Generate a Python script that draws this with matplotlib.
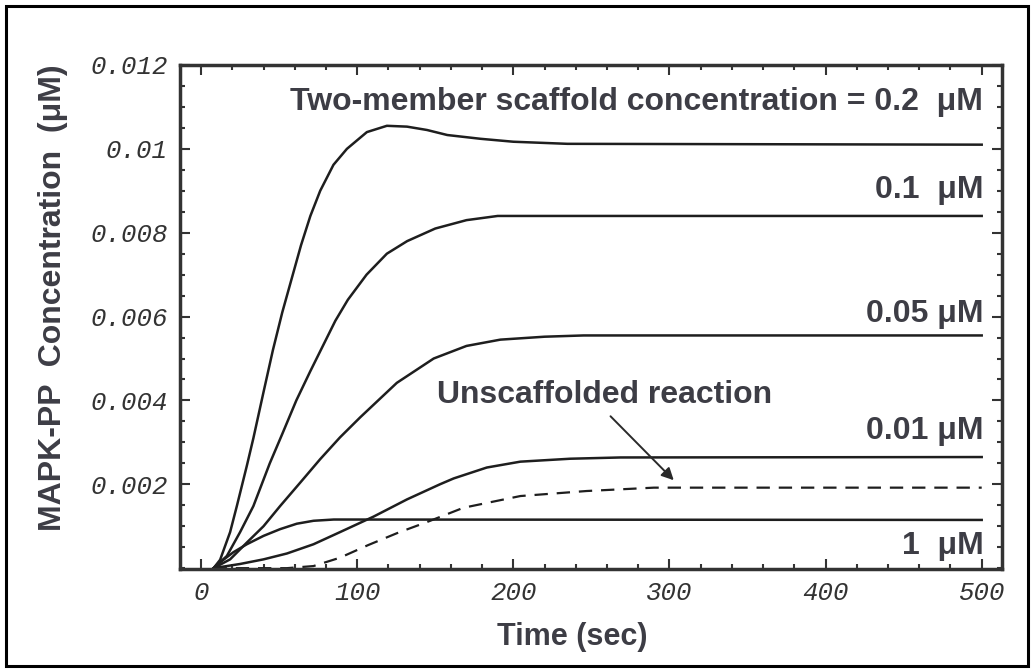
import numpy as np
import matplotlib
matplotlib.use("Agg")
import matplotlib.pyplot as plt
from matplotlib.patches import Rectangle
from matplotlib.ticker import MultipleLocator, FixedLocator, FixedFormatter

# values (time in sec, concentration in uM)
t_02 = [8, 12.2, 18.6, 22.9, 29.3, 33.5, 40, 46, 52, 58, 64, 70, 76.3, 84.8, 93.4, 106.2, 119,
        131.9, 144.7, 157.7, 179, 200, 234.6, 500]
y_02 = [0, 0.0002, 0.00086, 0.00148, 0.00244, 0.0031, 0.0042, 0.0052, 0.0061, 0.0069, 0.0077,
        0.0084, 0.009, 0.00962, 0.01, 0.0104, 0.01055, 0.01053, 0.01045, 0.01033, 0.01024,
        0.01017, 0.01012, 0.0101]

t_01 = [8, 16.5, 25, 33.5, 44, 52, 61, 70, 78, 86, 94, 106, 119, 132, 150, 170, 190, 500]
y_01 = [0, 0.00029, 0.00086, 0.00148, 0.0025, 0.0032, 0.004, 0.0047, 0.0053, 0.0059, 0.0064,
        0.007, 0.0075, 0.0078, 0.0081, 0.0083, 0.0084, 0.0084]

t_005 = [8, 18.6, 29.3, 40, 50.6, 63.5, 76.3, 89, 102, 125.4, 149, 170, 191.7, 220, 245, 500]
y_005 = [0, 0.00021, 0.00061, 0.001, 0.00148, 0.00204, 0.0026, 0.00312, 0.0036, 0.00442, 0.005,
         0.0053, 0.00545, 0.00552, 0.00555, 0.00555]

t_001 = [8, 25, 40, 55, 72, 89, 110.5, 131.9, 153, 161.8, 183, 204.5, 236.5, 268.6, 500]
y_001 = [0, 0.0001, 0.00021, 0.00035, 0.00057, 0.00086, 0.00123, 0.00164, 0.002, 0.00214, 0.0024,
         0.00254, 0.00261, 0.00264, 0.00265]

t_1 = [8, 12.2, 20.7, 29.3, 40, 50.6, 61.3, 72, 85, 500]
y_1 = [0, 0.00014, 0.00038, 0.00057, 0.00077, 0.00093, 0.00106, 0.00113, 0.00116, 0.00115]

t_unsc = [8, 55, 72, 89, 107, 126.5, 144.7, 168, 204.5, 247, 290, 500]
y_unsc = [0, 0.0, 0.00005, 0.00025, 0.00055, 0.00085, 0.0011, 0.00144, 0.00172, 0.00184, 0.00192, 0.00192]

x_ticks = [0, 100, 200, 300, 400, 500]
y_ticks = [0.002, 0.004, 0.006, 0.008, 0.01, 0.012]
y_ticklabels = ["0.002", "0.004", "0.006", "0.008", "0.01", "0.012"]

TXT = "#3d3d45"
LINE = "#1e1e1e"

fig = plt.figure(figsize=(10.34, 6.72), dpi=100)
ax = fig.add_axes([180 / 1034, 1 - 569 / 672, (1002 - 180) / 1034, (569 - 65) / 672])

for t, y in [(t_02, y_02), (t_01, y_01), (t_005, y_005), (t_001, y_001), (t_1, y_1)]:
    ax.plot(t, y, color=LINE, lw=1.8, solid_joinstyle="round")
ax.plot(t_unsc, y_unsc, color=LINE, lw=1.6, dashes=(6, 4))

ax.set_xlim(-13.5, 513)
ax.set_ylim(-0.00002, 0.012)

ax.xaxis.set_major_locator(FixedLocator(x_ticks))
ax.xaxis.set_minor_locator(MultipleLocator(20))
ax.yaxis.set_major_locator(FixedLocator(y_ticks))
ax.yaxis.set_major_formatter(FixedFormatter(y_ticklabels))
ax.yaxis.set_minor_locator(MultipleLocator(0.0005))
ax.tick_params(which="both", direction="in", top=True, right=True, color="#333333", width=1.5)
ax.tick_params(which="major", length=7, pad=9)
ax.tick_params(which="minor", length=3.5)
for lab in ax.get_xticklabels() + ax.get_yticklabels():
    lab.set_fontfamily("Liberation Mono")
    lab.set_fontstyle("italic")
    lab.set_fontsize(18.5)
    lab.set_color("#333333")
for sp in ax.spines.values():
    sp.set_linewidth(2.5)
    sp.set_color("#333333")

bold = dict(fontfamily="Liberation Sans", fontweight="bold", color=TXT)
fig.text(572 / 1034, 1 - 637 / 672, "Time (sec)", ha="center", va="center", fontsize=22, **bold)
fig.text(53 / 1034, 1 - 298 / 672, "MAPK-PP  Concentration  (μM)", rotation=90,
         ha="center", va="center", fontsize=23, **bold)

ax.text(501, 0.01112, "Two-member scaffold concentration = 0.2  μM", ha="right", va="center",
        fontsize=23, **bold)
ax.text(501, 0.00902, "0.1  μM", ha="right", va="center", fontsize=23, **bold)
ax.text(501, 0.00605, "0.05 μM", ha="right", va="center", fontsize=23, **bold)
ax.text(501, 0.00326, "0.01 μM", ha="right", va="center", fontsize=23, **bold)
ax.text(501, 0.00052, "1  μM", ha="right", va="center", fontsize=23, **bold)
ax.text(151, 0.00414, "Unscaffolded reaction", ha="left", va="center", fontsize=23, **bold)
ax.annotate("", xy=(304, 0.00205), xytext=(261, 0.00367),
            arrowprops=dict(arrowstyle="-|>", color="#2a2a2a", lw=1.4, mutation_scale=18))

fig.patches.append(Rectangle((6 / 1034, 6 / 672), 1022 / 1034, 660 / 672, transform=fig.transFigure,
                             fill=False, edgecolor="black", lw=2.2))

fig.savefig("out.png", dpi=100)
